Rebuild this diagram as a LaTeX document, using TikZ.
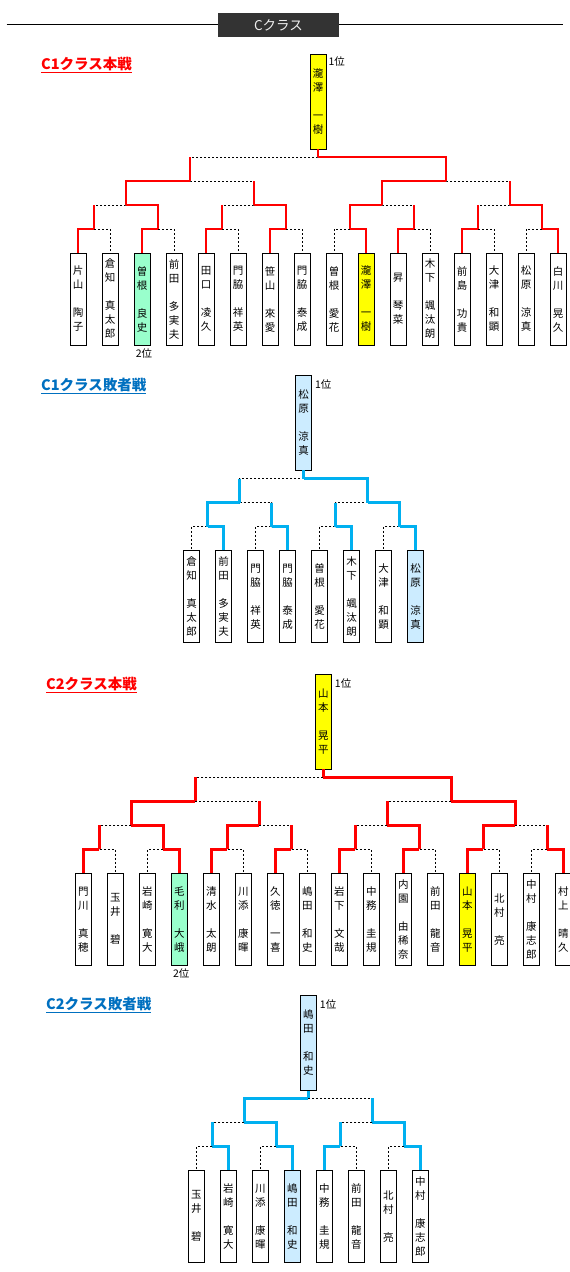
\documentclass[tikz,border=0pt]{standalone}
\usepackage{fontspec}
\usepackage{xcolor}
\usepackage{tikz}
\usetikzlibrary{calc}

\newfontfamily\jp{Noto Sans CJK JP}

\definecolor{mainred}{HTML}{FF0000}
\definecolor{subblue}{HTML}{00B0F0}
\definecolor{headblue}{HTML}{0070C0}
\definecolor{secondgreen}{HTML}{99FFCC}
\definecolor{firstyellow}{HTML}{FFFF00}
\definecolor{reviveblue}{HTML}{CCECFF}
\definecolor{bannergray}{HTML}{333333}
\definecolor{bannertext}{HTML}{EEEEEE}

% one bout: colour, winner, loser, name, level
\newcommand\bout[5]{%
  \path ($(#2)!.5!(#3)$) coordinate (tmp);
  \coordinate (#4) at (tmp |- 0,#5);
  \draw[lost] (#2) |- (#4) -| (#3);
  \draw[won=#1] (#2) |- (#4);
}
% later rounds: the loser also came up a coloured line
\newcommand\boutup[5]{%
  \bout{#1}{#2}{#3}{#4}{#5}
  \draw[won=#1] (#3) -- (#3 |- #4);
}

\tikzset{
  player/.style={draw, line width=0.9pt, fill=white, minimum width=16, minimum height=92,
    inner sep=0, align=center, font=\jp\fontsize{10.5}{14}\selectfont},
  champ/.style={player, minimum height=95},
  lost/.style={line width=0.9pt, dash pattern=on 2pt off 2pt},
  won/.style={draw=#1, line width=2.8pt},
  heading/.style={anchor=west, inner sep=0, text=#1, font=\jp\bfseries\fontsize{14.5}{16}\selectfont},
  rank/.style={anchor=west, inner sep=0, font=\jp\fontsize{10.5}{12}\selectfont},
  banner/.style={fill=bannergray, text=bannertext, minimum width=121, minimum height=24,
    inner sep=0, font=\jp\fontsize{13.5}{15}\selectfont}
}

\begin{document}
\begin{tikzpicture}[x=1pt, y=-1pt]
  \fill[white] (0,0) rectangle (570,1272);
  \useasboundingbox (0,0) rectangle (570,1272);

  % banner:
  \coordinate (rule-l) at (6.5,24.3);
  \coordinate (rule-r) at (563,24.3);
  \draw[line width=1pt] (rule-l) -- (rule-r);
  \node[banner] (head) at (278.5,25.3) {Cクラス};

  % C1 main draw:
  \begin{scope}
    \node[heading=mainred] (atitle) at (41,65) {\underline{C1クラス本戦}};
    \foreach \nm/\fc [count=\i] in {{片\\山\\[14pt]陶\\子}/white, {倉\\知\\[14pt]真\\太\\郎}/white,
      {曽\\根\\[14pt]良\\史}/secondgreen, {前\\田\\[14pt]多\\実\\夫}/white,
      {田\\口\\[14pt]凌\\久}/white, {門\\脇\\[14pt]祥\\英}/white,
      {笹\\山\\[14pt]來\\愛}/white, {門\\脇\\[14pt]泰\\成}/white,
      {曽\\根\\[14pt]愛\\花}/white, {瀧\\澤\\[14pt]一\\樹}/firstyellow,
      {昇\\[14pt]琴\\菜}/white, {木\\下\\[14pt]颯\\汰\\朗}/white,
      {前\\島\\[14pt]功\\貴}/white, {大\\津\\[14pt]和\\顕}/white,
      {松\\原\\[14pt]涼\\真}/white, {白\\川\\[14pt]晃\\久}/white}
      \node[player, fill=\fc] (a\i) at ({78+32*(\i-1)},299) {\nm};
    \foreach \w/\l/\k in {1/2/1, 3/4/2, 5/6/3, 7/8/4, 10/9/5, 11/12/6, 13/14/7, 16/15/8}
      {\bout{mainred}{a\w.north}{a\l.north}{aq\k}{229}}
    \foreach \w/\l/\k in {2/1/1, 4/3/2, 5/6/3, 8/7/4}
      {\boutup{mainred}{aq\w}{aq\l}{ar\k}{205}}
    \boutup{mainred}{ar1}{ar2}{as1}{181}
    \boutup{mainred}{ar3}{ar4}{as2}{181}
    \boutup{mainred}{as2}{as1}{af}{157}
    \node[champ, fill=firstyellow] (atop) at (af |- 0,101.5) {瀧\\澤\\[14pt]一\\樹};
    \draw[won=mainred] (af) -- (atop);
    \node[rank] (afirst) at ([shift={(2,8)}]atop.north east) {1位};
    \node[rank, anchor=center] (asecond) at ([shift={(2,8)}]a3.south) {2位};
  \end{scope}

  % C1 repechage:
  \begin{scope}
    \node[heading=headblue] (btitle) at (41,386) {\underline{C1クラス敗者戦}};
    \foreach \nm/\fc [count=\i] in {{倉\\知\\[14pt]真\\太\\郎}/white, {前\\田\\[14pt]多\\実\\夫}/white,
      {門\\脇\\[14pt]祥\\英}/white, {門\\脇\\[14pt]泰\\成}/white,
      {曽\\根\\[14pt]愛\\花}/white, {木\\下\\[14pt]颯\\汰\\朗}/white,
      {大\\津\\[14pt]和\\顕}/white, {松\\原\\[14pt]涼\\真}/reviveblue}
      \node[player, fill=\fc] (b\i) at ({191.5+32*(\i-1)},596.7) {\nm};
    \foreach \w/\l/\k in {2/1/1, 4/3/2, 6/5/3, 8/7/4}
      {\bout{subblue}{b\w.north}{b\l.north}{bq\k}{526.5}}
    \boutup{subblue}{bq1}{bq2}{br1}{502.5}
    \boutup{subblue}{bq4}{bq3}{br2}{502.5}
    \boutup{subblue}{br2}{br1}{bf}{478.5}
    \node[champ, fill=reviveblue] (btop) at (bf |- 0,422.5) {松\\原\\[14pt]涼\\真};
    \draw[won=subblue] (bf) -- (btop);
    \node[rank] (bfirst) at ([shift={(3,10)}]btop.north east) {1位};
  \end{scope}

  % C2 main draw:
  \begin{scope}
    \node[heading=mainred] (ctitle) at (46,685) {\underline{C2クラス本戦}};
    \foreach \nm/\fc [count=\i] in {{門\\川\\[14pt]真\\穂}/white, {玉\\井\\[14pt]碧}/white,
      {岩\\崎\\[14pt]寛\\大}/white, {毛\\利\\[14pt]大\\峨}/secondgreen,
      {清\\水\\[14pt]太\\朗}/white, {川\\添\\[14pt]康\\暉}/white,
      {久\\徳\\[14pt]一\\喜}/white, {嶋\\田\\[14pt]和\\史}/white,
      {岩\\下\\[14pt]文\\哉}/white, {中\\務\\[14pt]圭\\規}/white,
      {内\\園\\[14pt]由\\稀\\奈}/white, {前\\田\\[14pt]龍\\音}/white,
      {山\\本\\[14pt]晃\\平}/firstyellow, {北\\村\\[14pt]亮}/white,
      {中\\村\\[14pt]康\\志\\郎}/white, {村\\上\\[14pt]晴\\久}/white}
      \node[player, fill=\fc] (c\i) at ({83.3+32*(\i-1)},919.3) {\nm};
    \foreach \w/\l/\k in {1/2/1, 4/3/2, 5/6/3, 7/8/4, 9/10/5, 11/12/6, 13/14/7, 16/15/8}
      {\bout{mainred}{c\w.north}{c\l.north}{cq\k}{849.3}}
    \foreach \w/\l/\k in {2/1/1, 3/4/2, 6/5/3, 7/8/4}
      {\boutup{mainred}{cq\w}{cq\l}{cr\k}{825.3}}
    \boutup{mainred}{cr1}{cr2}{cs1}{801.3}
    \boutup{mainred}{cr4}{cr3}{cs2}{801.3}
    \boutup{mainred}{cs2}{cs1}{cf}{777.3}
    \node[champ, fill=firstyellow] (ctop) at (cf |- 0,721.5) {山\\本\\[14pt]晃\\平};
    \draw[won=mainred] (cf) -- (ctop);
    \node[rank] (cfirst) at ([shift={(3,10)}]ctop.north east) {1位};
    \node[rank, anchor=center] (csecond) at ([shift={(2,8)}]c4.south) {2位};
  \end{scope}

  % C2 repechage:
  \begin{scope}
    \node[heading=headblue] (dtitle) at (46,1005) {\underline{C2クラス敗者戦}};
    \foreach \nm/\fc [count=\i] in {{玉\\井\\[14pt]碧}/white, {岩\\崎\\[14pt]寛\\大}/white,
      {川\\添\\[14pt]康\\暉}/white, {嶋\\田\\[14pt]和\\史}/reviveblue,
      {中\\務\\[14pt]圭\\規}/white, {前\\田\\[14pt]龍\\音}/white,
      {北\\村\\[14pt]亮}/white, {中\\村\\[14pt]康\\志\\郎}/white}
      \node[player, fill=\fc] (d\i) at ({196.3+32*(\i-1)},1216.3) {\nm};
    \foreach \w/\l/\k in {2/1/1, 4/3/2, 5/6/3, 8/7/4}
      {\bout{subblue}{d\w.north}{d\l.north}{dq\k}{1146.3}}
    \boutup{subblue}{dq2}{dq1}{dr1}{1122.3}
    \boutup{subblue}{dq4}{dq3}{dr2}{1122.3}
    \boutup{subblue}{dr1}{dr2}{df}{1098.3}
    \node[champ, fill=reviveblue] (dtop) at (df |- 0,1042.8) {嶋\\田\\[14pt]和\\史};
    \draw[won=subblue] (df) -- (dtop);
    \node[rank] (dfirst) at ([shift={(3,10)}]dtop.north east) {1位};
  \end{scope}
\end{tikzpicture}
\end{document}
